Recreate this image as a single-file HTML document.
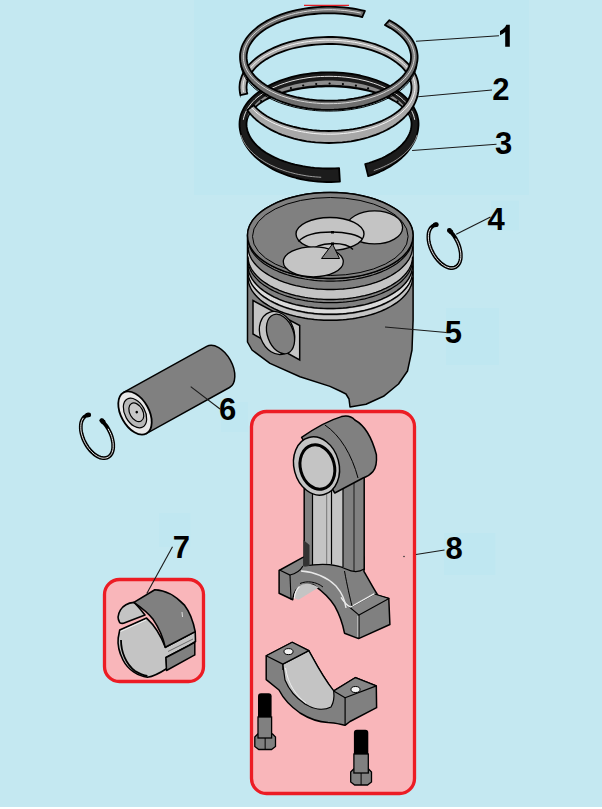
<!DOCTYPE html>
<html><head><meta charset="utf-8">
<style>
html,body{margin:0;padding:0;background:#c4e8f1;}
body{width:602px;height:809px;overflow:hidden;position:relative;}
svg{position:absolute;left:0;top:0;}
text{font-family:"Liberation Sans",sans-serif;font-weight:bold;font-size:31px;fill:#000;}
</style></head><body>
<svg width="602" height="809" viewBox="0 0 602 809">
<rect x="0" y="0" width="602" height="807" fill="#c4e8f1"/>
<rect x="0" y="807" width="602" height="2" fill="#ffffff"/>
<rect x="194" y="0" width="335" height="195" fill="#bfe7f1"/>
<rect x="446" y="308" width="53" height="57" fill="#bfe7f1"/>
<rect x="491" y="200.5" width="28" height="30" fill="#bfe7f1"/>
<rect x="221" y="402" width="27" height="30" fill="#c0e7f1"/>
<rect x="159" y="513" width="31.5" height="34" fill="#c0e7f1"/>
<rect x="444" y="533" width="51.5" height="42" fill="#bfe7f1"/>

<g id="rings">
<polygon points="339.9,181.6 335.5,181.8 331.1,182.0 326.6,182.0 322.2,181.8 317.8,181.5 313.4,181.1 309.0,180.5 304.7,179.8 300.5,179.0 296.3,178.0 292.2,176.9 288.2,175.6 284.3,174.2 280.5,172.7 276.9,171.1 273.3,169.4 269.9,167.5 266.7,165.6 263.6,163.5 260.6,161.4 257.8,159.1 255.2,156.8 252.8,154.4 250.6,151.9 248.5,149.3 246.7,146.7 245.0,144.0 243.6,141.3 242.4,138.5 241.4,135.7 240.6,132.9 240.0,130.0 239.6,127.2 239.5,124.3 239.6,121.7 239.9,119.1 240.4,116.6 241.1,114.1 242.1,111.6 243.3,109.1 244.6,106.7 246.2,104.3 248.0,101.9 250.0,99.6 252.2,97.4 254.6,95.3 257.1,93.2 259.8,91.1 262.7,89.2 265.8,87.4 269.0,85.6 272.4,83.9 275.9,82.4 279.5,80.9 283.3,79.5 287.2,78.3 291.1,77.1 295.2,76.1 299.4,75.2 303.6,74.4 307.9,73.8 312.2,73.2 316.6,72.8 321.0,72.5 325.4,72.3 329.9,72.3 334.3,72.4 338.7,72.6 343.1,72.9 347.5,73.4 351.8,74.0 356.1,74.7 360.3,75.5 364.4,76.5 368.4,77.6 372.3,78.8 376.2,80.0 379.9,81.5 383.5,83.0 386.9,84.6 390.2,86.3 393.4,88.1 396.4,90.0 399.2,91.9 401.9,94.0 404.4,96.1 406.7,98.3 408.8,100.5 410.7,102.8 412.4,105.2 413.9,107.6 415.2,110.1 416.3,112.5 417.2,115.0 417.8,117.6 418.3,120.1 418.5,122.7 418.5,125.4 418.2,128.3 417.8,131.1 417.1,134.0 416.3,136.8 415.2,139.6 413.9,142.4 412.3,145.1 410.6,147.7 408.7,150.3 406.6,152.9 404.3,155.3 401.8,157.7 399.1,160.0 396.3,162.2 393.3,164.3 390.1,166.4 386.8,168.3 383.3,170.1 379.7,171.8 376.0,173.3 372.2,174.8 368.2,176.1 365.2,164.0 368.8,163.0 372.3,161.9 375.8,160.6 379.1,159.3 382.3,158.0 385.3,156.5 388.2,154.9 391.0,153.3 393.6,151.6 396.1,149.9 398.4,148.0 400.5,146.1 402.5,144.2 404.2,142.2 405.8,140.2 407.2,138.1 408.4,136.0 409.4,133.8 410.2,131.7 410.9,129.5 411.3,127.3 411.5,125.1 411.5,123.0 411.3,121.1 410.9,119.3 410.3,117.4 409.5,115.6 408.5,113.8 407.3,112.0 405.9,110.3 404.3,108.6 402.6,106.9 400.6,105.2 398.5,103.6 396.2,102.1 393.7,100.6 391.1,99.2 388.4,97.8 385.4,96.5 382.4,95.2 379.2,94.1 375.9,93.0 372.5,91.9 369.0,91.0 365.3,90.1 361.6,89.4 357.8,88.7 353.9,88.1 350.0,87.5 346.0,87.1 342.0,86.8 338.0,86.5 333.9,86.4 329.8,86.3 325.7,86.3 321.6,86.5 317.6,86.7 313.5,87.0 309.5,87.4 305.6,87.8 301.7,88.4 297.9,89.1 294.1,89.8 290.4,90.7 286.9,91.6 283.4,92.6 280.1,93.6 276.8,94.8 273.7,96.0 270.7,97.3 267.9,98.6 265.2,100.0 262.7,101.5 260.4,103.0 258.2,104.6 256.2,106.2 254.3,107.9 252.7,109.6 251.2,111.3 250.0,113.1 248.9,114.9 248.0,116.7 247.3,118.6 246.9,120.4 246.6,122.3 246.5,124.2 246.6,126.4 247.0,128.6 247.5,130.8 248.2,133.0 249.2,135.1 250.3,137.3 251.6,139.4 253.1,141.4 254.8,143.4 256.7,145.4 258.8,147.3 261.0,149.2 263.4,150.9 266.0,152.7 268.7,154.3 271.5,155.9 274.5,157.4 277.7,158.8 280.9,160.2 284.3,161.4 287.8,162.5 291.4,163.6 295.1,164.6 298.9,165.4 302.7,166.2 306.6,166.8 310.6,167.4 314.6,167.8 318.6,168.1 322.7,168.4 326.8,168.5 330.9,168.5 335.0,168.4 339.1,168.2" fill="#1c1c1c" stroke="#000" stroke-width="1.8" stroke-linejoin="round"/>
<polygon points="247.0,117.9 247.6,115.8 248.5,113.8 249.5,111.8 250.7,109.9 252.1,107.9 253.6,106.0 255.3,104.2 257.2,102.3 259.2,100.6 261.5,98.9 263.8,97.2 266.3,95.6 269.0,94.1 271.8,92.6 274.7,91.2 277.7,89.9 280.9,88.7 284.1,87.5 287.5,86.4 291.0,85.4 294.5,84.5 298.2,83.7 301.9,83.0 305.6,82.4 309.4,81.8 313.3,81.4 317.2,81.0 321.1,80.8 325.1,80.6 329.0,80.6 332.9,80.6 336.9,80.8 340.8,81.0 344.7,81.4 348.6,81.8 352.4,82.4 356.1,83.0 359.8,83.7 363.5,84.5 367.0,85.4 370.5,86.4 373.9,87.5 377.1,88.7 380.3,89.9 383.3,91.2 386.2,92.6 389.0,94.1 391.7,95.6 394.2,97.2 396.5,98.9 398.8,100.6 400.8,102.3 402.7,104.2 404.4,106.0 405.9,107.9 407.3,109.9 408.5,111.8 409.5,113.8 410.4,115.8 411.0,117.9 411.0,118.4 410.4,116.6 409.5,114.8 408.5,113.0 407.3,111.2 405.9,109.4 404.4,107.7 402.7,106.0 400.8,104.4 398.8,102.8 396.5,101.2 394.2,99.7 391.7,98.3 389.0,96.9 386.2,95.6 383.3,94.3 380.3,93.1 377.1,92.0 373.9,90.9 370.5,90.0 367.0,89.1 363.5,88.3 359.8,87.5 356.1,86.9 352.4,86.3 348.6,85.8 344.7,85.4 340.8,85.1 336.9,84.9 332.9,84.7 329.0,84.7 325.1,84.7 321.1,84.9 317.2,85.1 313.3,85.4 309.4,85.8 305.6,86.3 301.9,86.9 298.2,87.5 294.5,88.3 291.0,89.1 287.5,90.0 284.1,90.9 280.9,92.0 277.7,93.1 274.7,94.3 271.8,95.6 269.0,96.9 266.3,98.3 263.8,99.7 261.5,101.2 259.2,102.8 257.2,104.4 255.3,106.0 253.6,107.7 252.1,109.4 250.7,111.2 249.5,113.0 248.5,114.8 247.6,116.6 247.0,118.4" fill="#8c8c8c"/>
<circle cx="249.7" cy="112.8" r="1.1" fill="#000"/>
<circle cx="254.4" cy="106.6" r="1.1" fill="#000"/>
<circle cx="261.1" cy="101.0" r="1.1" fill="#000"/>
<circle cx="269.6" cy="95.9" r="1.1" fill="#000"/>
<circle cx="279.6" cy="91.6" r="1.1" fill="#000"/>
<circle cx="290.9" cy="88.1" r="1.1" fill="#000"/>
<circle cx="303.2" cy="85.5" r="1.1" fill="#000"/>
<circle cx="316.2" cy="84.0" r="1.1" fill="#000"/>
<circle cx="329.6" cy="83.5" r="1.1" fill="#000"/>
<circle cx="342.9" cy="84.1" r="1.1" fill="#000"/>
<circle cx="355.9" cy="85.7" r="1.1" fill="#000"/>
<circle cx="368.1" cy="88.3" r="1.1" fill="#000"/>
<circle cx="379.3" cy="91.9" r="1.1" fill="#000"/>
<circle cx="389.2" cy="96.3" r="1.1" fill="#000"/>
<circle cx="397.6" cy="101.4" r="1.1" fill="#000"/>
<circle cx="404.1" cy="107.1" r="1.1" fill="#000"/>
<circle cx="408.6" cy="113.3" r="1.1" fill="#000"/>
<polyline points="243.3,119.8 243.8,117.4 244.5,115.1 245.4,112.8 246.5,110.5 247.8,108.3 249.3,106.1 251.0,103.9 252.8,101.8 254.9,99.7 257.1,97.7 259.6,95.8 262.2,93.9 264.9,92.2 267.8,90.4 270.9,88.8 274.1,87.3 277.4,85.8 280.9,84.4 284.5,83.2 288.2,82.0 292.0,80.9 295.9,80.0 299.8,79.1 303.9,78.4 308.0,77.7 312.1,77.2 316.3,76.8 320.5,76.5 324.7,76.4 329.0,76.3 333.3,76.4 337.5,76.5 341.7,76.8 345.9,77.2 350.0,77.7 354.1,78.4 358.2,79.1 362.1,80.0 366.0,80.9 369.8,82.0 373.5,83.2 377.1,84.4 380.6,85.8 383.9,87.3 387.1,88.8 390.2,90.4 393.1,92.2 395.8,93.9 398.4,95.8 400.9,97.7 403.1,99.7 405.2,101.8 407.0,103.9 408.7,106.1 410.2,108.3 411.5,110.5 412.6,112.8 413.5,115.1 414.2,117.4 414.7,119.8" fill="none" stroke="#e0e0e0" stroke-width="1"/>
<polyline points="417.1,134.9 416.8,136.0 416.4,137.1 415.9,138.2 415.5,139.3 414.9,140.3 414.4,141.4 413.8,142.5 413.1,143.5 412.4,144.6 411.7,145.6 410.9,146.7 410.1,147.7 409.3,148.7 408.4,149.7 407.5,150.7 406.5,151.7 405.5,152.7 404.5,153.6 403.4,154.6 402.3,155.5 401.2,156.4 400.0,157.3 398.8,158.2 397.6,159.1 396.3,159.9 395.0,160.8 393.7,161.6 392.3,162.4 390.9,163.2 389.5,163.9 388.0,164.7 386.5,165.4 385.0,166.1 383.5,166.8 381.9,167.5 380.3,168.2 378.7,168.8 377.1,169.4 375.4,170.0 373.8,170.6" fill="none" stroke="#bbb" stroke-width="0.8"/>
<polyline points="321.2,177.3 318.3,177.1 315.4,176.9 312.5,176.6 309.6,176.3 306.8,175.9 304.0,175.4 301.2,174.9 298.4,174.4 295.7,173.8 293.0,173.1 290.3,172.4 287.7,171.7 285.1,170.9 282.6,170.0 280.1,169.1 277.7,168.2 275.3,167.2 273.0,166.1 270.7,165.1 268.5,163.9 266.4,162.8 264.3,161.6 262.4,160.3 260.4,159.1 258.6,157.8 256.8,156.4 255.1,155.0 253.5,153.6 252.0,152.2 250.5,150.7 249.2,149.2 247.9,147.7 246.7,146.2 245.6,144.6 244.6,143.0 243.6,141.4 242.8,139.8 242.1,138.2 241.4,136.5 240.9,134.9" fill="none" stroke="#bbb" stroke-width="0.8"/>
<polygon points="240.4,95.2 239.9,92.5 239.6,89.7 239.5,87.0 239.7,84.4 240.0,81.9 240.7,79.4 241.5,76.9 242.5,74.5 243.8,72.1 245.3,69.7 246.9,67.3 248.8,65.0 250.9,62.8 253.2,60.6 255.7,58.5 258.3,56.5 261.2,54.5 264.2,52.7 267.4,50.9 270.7,49.2 274.1,47.6 277.8,46.1 281.5,44.7 285.3,43.4 289.3,42.2 293.4,41.2 297.5,40.2 301.7,39.4 306.0,38.7 310.4,38.1 314.8,37.6 319.2,37.3 323.7,37.1 328.2,37.0 332.6,37.0 337.1,37.2 341.6,37.5 346.0,37.9 350.3,38.5 354.7,39.1 358.9,39.9 363.1,40.8 367.2,41.8 371.2,43.0 375.1,44.2 378.9,45.6 382.5,47.0 386.0,48.6 389.4,50.2 392.7,52.0 395.7,53.8 398.6,55.8 401.3,57.8 403.9,59.8 406.2,62.0 408.4,64.2 410.4,66.5 412.1,68.8 413.7,71.2 415.0,73.6 416.2,76.0 417.1,78.5 417.8,81.0 418.2,83.5 418.5,86.0 418.5,88.7 418.3,91.4 417.8,94.2 417.2,96.9 416.3,99.7 415.2,102.4 413.9,105.0 412.4,107.6 410.7,110.2 408.7,112.7 406.6,115.1 404.3,117.5 401.8,119.8 399.1,122.0 396.2,124.2 393.2,126.2 390.0,128.1 386.6,130.0 383.1,131.7 379.5,133.3 375.7,134.8 371.8,136.2 367.9,137.5 363.8,138.6 359.6,139.7 355.4,140.5 351.1,141.3 346.7,141.9 342.3,142.4 337.8,142.7 333.4,142.9 328.9,143.0 324.4,142.9 320.0,142.7 315.5,142.4 311.1,141.9 306.7,141.3 302.4,140.5 298.2,139.6 294.0,138.6 290.0,137.4 286.0,136.2 282.1,134.8 278.3,133.3 274.7,131.6 271.2,129.9 267.9,128.0 264.7,126.1 261.7,124.1 258.8,121.9 256.1,119.7 253.6,117.4 251.3,115.0 249.2,112.6 247.2,110.1 253.6,105.2 255.4,107.2 257.4,109.1 259.5,110.9 261.8,112.7 264.3,114.5 266.9,116.2 269.7,117.8 272.7,119.3 275.7,120.7 279.0,122.1 282.3,123.4 285.8,124.6 289.3,125.6 293.0,126.6 296.8,127.5 300.6,128.3 304.5,129.0 308.5,129.6 312.5,130.1 316.6,130.5 320.7,130.8 324.8,130.9 328.9,131.0 333.0,130.9 337.1,130.8 341.2,130.5 345.3,130.1 349.3,129.7 353.3,129.1 357.2,128.4 361.1,127.6 364.8,126.7 368.5,125.7 372.1,124.6 375.5,123.4 378.9,122.1 382.1,120.8 385.2,119.3 388.1,117.8 390.9,116.2 393.6,114.6 396.1,112.8 398.4,111.0 400.5,109.2 402.5,107.2 404.3,105.3 405.9,103.3 407.3,101.2 408.5,99.1 409.5,97.0 410.3,94.9 410.9,92.8 411.3,90.6 411.5,88.4 411.5,86.2 411.2,84.1 410.8,81.9 410.2,79.7 409.3,77.6 408.3,75.5 407.1,73.4 405.6,71.4 404.0,69.4 402.2,67.4 400.2,65.5 398.0,63.7 395.7,61.9 393.2,60.2 390.5,58.5 387.7,56.9 384.7,55.4 381.6,54.0 378.3,52.6 375.0,51.4 371.5,50.2 367.9,49.1 364.2,48.2 360.4,47.3 356.6,46.5 352.7,45.8 348.7,45.3 344.6,44.8 340.6,44.4 336.5,44.2 332.4,44.0 328.2,44.0 324.1,44.1 320.0,44.3 315.9,44.6 311.8,45.0 307.8,45.5 303.9,46.1 300.0,46.8 296.1,47.6 292.4,48.5 288.8,49.5 285.2,50.6 281.8,51.8 278.4,53.1 275.2,54.5 272.2,56.0 269.3,57.5 266.5,59.1 263.9,60.8 261.4,62.5 259.1,64.4 257.0,66.2 255.1,68.2 253.4,70.1 251.8,72.1 250.4,74.2 249.3,76.3 248.3,78.4 247.6,80.5 247.0,82.7 246.7,84.9 246.5,87.0 246.6,89.2 246.8,91.4 247.3,93.6" fill="#a8a8a8" stroke="#000" stroke-width="1.8" stroke-linejoin="round"/>
<polyline points="243.5,92.1 243.1,89.8 243.0,87.5 243.1,85.1 243.4,82.8 243.9,80.5 244.6,78.2 245.5,76.0 246.6,73.7 247.9,71.5 249.5,69.3 251.2,67.2 253.1,65.1 255.2,63.1 257.4,61.1 259.9,59.2 262.5,57.4 265.3,55.6 268.2,54.0 271.3,52.4 274.5,50.8 277.8,49.4 281.3,48.1 284.9,46.8 288.6,45.7 292.4,44.7 296.3,43.7 300.3,42.9 304.3,42.2 308.4,41.6 312.6,41.1 316.8,40.7 321.0,40.4 325.2,40.2 329.5,40.2 333.8,40.3 338.0,40.5 342.2,40.8 346.4,41.2 350.5,41.7 354.6,42.3 358.6,43.1 362.6,43.9 366.5,44.9 370.3,46.0 373.9,47.1 377.5,48.4 381.0,49.7 384.3,51.2 387.5,52.7 390.5,54.4 393.4,56.1 396.1,57.8 398.7,59.7 401.1,61.6 403.4,63.6 405.4,65.6 407.3,67.7 408.9,69.8 410.4,72.0 411.7,74.2 412.7,76.5 413.6,78.8 414.3,81.1 414.7,83.4 415.0,85.7 415.0,88.0 414.8,90.3 414.4,92.7 413.8,95.0 413.0,97.2 412.0,99.5 410.8,101.7 409.4,103.9 407.8,106.1 406.0,108.2 404.0,110.2 401.8,112.2 399.4,114.2 396.9,116.0 394.2,117.8 391.4,119.6 388.4,121.2 385.2,122.8 381.9,124.2 378.5,125.6 375.0,126.9 371.3,128.1 367.6,129.2 363.8,130.2 359.8,131.1 355.8,131.9 351.7,132.5 347.6,133.1 343.4,133.5 339.2,133.9 335.0,134.1 330.8,134.2 326.5,134.2 322.3,134.1 318.0,133.8 313.8,133.5 309.7,133.0 305.5,132.4 301.5,131.7 297.5,130.9 293.6,130.0 289.7,129.0 286.0,127.9 282.4,126.7 278.9,125.4 275.5,124.0 272.2,122.5 269.1,120.9 266.1,119.3 263.3,117.5 260.6,115.7 258.1,113.8 255.8,111.9 253.7,109.9 251.7,107.8" fill="none" stroke="#f4f4f4" stroke-width="1"/>
<polyline points="240.5,97.2 240.5,97.2 240.5,97.2 240.5,97.2 240.5,97.2 240.5,97.2 240.5,97.1 240.5,97.1 240.5,97.1 240.5,97.1 240.5,97.1 240.5,97.1 240.5,97.1 240.5,97.0 240.5,97.0 240.4,97.0 240.4,97.0 240.4,97.0 240.4,97.0 240.4,97.0 240.4,96.9 240.4,96.9 240.4,96.9 240.4,96.9 240.4,96.9 240.4,96.9 240.4,96.9 240.4,96.8 240.4,96.8 240.4,96.8 240.4,96.8 240.4,96.8 240.4,96.8 240.4,96.7 240.4,96.7 240.4,96.7 240.4,96.7 240.4,96.7 240.4,96.7 240.4,96.7 240.4,96.6 240.4,96.6 240.4,96.6 240.4,96.6 240.4,96.6 240.4,96.6 240.4,96.6 240.4,96.5 240.4,96.5 240.4,96.5 240.4,96.5 240.4,96.5 240.4,96.5 240.4,96.5 240.4,96.4 240.4,96.4 240.3,96.4 240.3,96.4 240.3,96.4 240.3,96.4 240.3,96.4" fill="none" stroke="#000" stroke-width="1"/>
<polygon points="389.4,20.2 392.5,22.0 395.5,23.8 398.3,25.7 401.0,27.7 403.4,29.8 405.7,31.9 407.8,34.1 409.8,36.3 411.5,38.6 413.0,41.0 414.3,43.4 415.4,45.8 416.2,48.2 416.9,50.7 417.3,53.2 417.6,55.7 417.6,58.2 417.4,60.8 416.9,63.4 416.3,66.0 415.4,68.6 414.4,71.1 413.1,73.6 411.6,76.1 409.9,78.5 408.0,80.9 405.9,83.2 403.6,85.4 401.2,87.6 398.5,89.7 395.7,91.7 392.7,93.6 389.6,95.5 386.3,97.2 382.9,98.9 379.4,100.4 375.7,101.8 371.9,103.2 368.0,104.4 364.0,105.5 359.9,106.5 355.7,107.3 351.5,108.0 347.2,108.7 342.9,109.1 338.5,109.5 334.1,109.7 329.7,109.8 325.3,109.8 320.9,109.6 316.6,109.3 312.2,108.9 307.9,108.3 303.7,107.6 299.5,106.8 295.3,105.9 291.3,104.9 287.4,103.7 283.5,102.4 279.8,101.0 276.2,99.5 272.7,97.9 269.4,96.2 266.2,94.4 263.1,92.5 260.2,90.5 257.5,88.5 255.0,86.3 252.6,84.1 250.5,81.9 248.5,79.5 246.7,77.1 245.1,74.7 243.8,72.2 242.6,69.7 241.6,67.1 240.9,64.5 240.4,61.9 240.1,59.3 240.0,56.7 240.1,54.2 240.5,51.7 241.1,49.3 241.8,46.8 242.8,44.4 244.1,42.0 245.5,39.6 247.1,37.3 248.9,35.0 250.9,32.8 253.2,30.6 255.6,28.6 258.1,26.5 260.9,24.6 263.8,22.7 266.9,20.9 270.1,19.2 273.5,17.6 277.0,16.1 280.7,14.7 284.4,13.4 288.3,12.2 292.2,11.2 296.3,10.2 300.4,9.3 304.6,8.6 308.9,8.0 313.2,7.5 317.6,7.1 322.0,6.8 326.4,6.7 330.8,6.7 335.2,6.8 339.5,7.1 343.9,7.4 348.2,7.9 352.5,8.5 356.7,9.2 360.9,10.1 364.9,11.0 362.2,17.1 358.5,16.2 354.6,15.5 350.7,14.9 346.8,14.4 342.8,13.9 338.7,13.6 334.7,13.4 330.6,13.3 326.5,13.3 322.5,13.4 318.4,13.7 314.4,14.0 310.4,14.4 306.4,14.9 302.5,15.6 298.7,16.3 295.0,17.2 291.3,18.1 287.7,19.2 284.2,20.3 280.9,21.5 277.6,22.8 274.5,24.2 271.5,25.7 268.6,27.2 265.9,28.8 263.4,30.5 261.0,32.3 258.8,34.1 256.7,36.0 254.9,37.9 253.2,39.9 251.7,41.9 250.4,43.9 249.2,46.0 248.3,48.1 247.6,50.3 247.1,52.4 246.7,54.6 246.6,56.7 246.7,58.9 247.0,61.1 247.4,63.2 248.1,65.4 249.0,67.5 250.1,69.6 251.3,71.6 252.8,73.7 254.4,75.6 256.3,77.6 258.3,79.5 260.5,81.3 262.8,83.1 265.3,84.8 268.0,86.4 270.8,88.0 273.8,89.5 276.9,90.9 280.1,92.2 283.4,93.4 286.9,94.6 290.4,95.7 294.1,96.6 297.8,97.5 301.6,98.2 305.5,98.9 309.5,99.5 313.4,99.9 317.5,100.3 321.5,100.5 325.6,100.7 329.7,100.7 333.7,100.6 337.8,100.4 341.8,100.1 345.8,99.8 349.8,99.2 353.7,98.6 357.6,97.9 361.4,97.1 365.1,96.2 368.7,95.2 372.2,94.1 375.6,92.9 378.9,91.7 382.1,90.3 385.1,88.8 388.0,87.3 390.8,85.7 393.4,84.1 395.8,82.3 398.1,80.5 400.2,78.7 402.1,76.8 403.9,74.8 405.4,72.8 406.8,70.8 408.0,68.7 409.0,66.6 409.8,64.5 410.4,62.3 410.8,60.2 411.0,58.0 411.0,55.8 410.8,53.7 410.3,51.5 409.7,49.4 408.9,47.2 407.9,45.1 406.7,43.1 405.3,41.0 403.7,39.0 402.0,37.1 400.0,35.2 397.9,33.3 395.6,31.5 393.2,29.8 390.5,28.1 387.8,26.6 384.9,25.0" fill="#707070" stroke="#000" stroke-width="1.8" stroke-linejoin="round"/>
<polyline points="389.3,23.5 392.1,25.1 394.9,26.9 397.5,28.7 399.9,30.6 402.1,32.5 404.2,34.5 406.1,36.6 407.8,38.7 409.3,40.8 410.6,43.0 411.7,45.2 412.6,47.5 413.4,49.8 413.9,52.0 414.2,54.3 414.3,56.6 414.2,58.9 413.9,61.2 413.4,63.5 412.7,65.8 411.8,68.1 410.7,70.3 409.4,72.5 407.8,74.6 406.2,76.7 404.3,78.8 402.2,80.8 400.0,82.7 397.6,84.6 395.0,86.4 392.3,88.2 389.4,89.9 386.4,91.4 383.2,93.0 379.9,94.4 376.5,95.7 373.0,96.9 369.3,98.1 365.6,99.1 361.7,100.1 357.8,100.9 353.9,101.6 349.8,102.3 345.7,102.8 341.6,103.2 337.5,103.5 333.3,103.6 329.1,103.7 324.9,103.7 320.7,103.5 316.6,103.2 312.4,102.8 308.3,102.3 304.3,101.7 300.3,101.0 296.4,100.2 292.6,99.3 288.8,98.2 285.2,97.1 281.6,95.9 278.2,94.6 274.9,93.2 271.7,91.7 268.6,90.1 265.7,88.4 263.0,86.7 260.4,84.9 257.9,83.0 255.7,81.1 253.6,79.1 251.7,77.0 250.0,74.9 248.5,72.8 247.1,70.6 246.0,68.4 245.0,66.1 244.3,63.9 243.8,61.6 243.4,59.3 243.3,57.0 243.4,54.7 243.7,52.4 244.2,50.1 244.8,47.8 245.7,45.6 246.8,43.3 248.1,41.1 249.6,39.0 251.3,36.9 253.1,34.8 255.2,32.8 257.4,30.9 259.8,29.0 262.3,27.1 265.1,25.4 267.9,23.7 270.9,22.1 274.1,20.6 277.4,19.2 280.8,17.8 284.3,16.6 287.9,15.4 291.7,14.4 295.5,13.4 299.4,12.6 303.4,11.8 307.4,11.2 311.5,10.7 315.6,10.3 319.7,10.0 323.9,9.8 328.1,9.7 332.3,9.7 336.5,9.9 340.6,10.2 344.8,10.5 348.9,11.0 352.9,11.6 356.9,12.3 360.8,13.1" fill="none" stroke="#d8d8d8" stroke-width="1"/>
<polyline points="416.8,65.6 416.3,68.1 415.6,70.5 414.7,72.9 413.5,75.3 412.2,77.7 410.7,80.0 408.9,82.2 407.0,84.4 404.9,86.6 402.6,88.7 400.1,90.7 397.4,92.6 394.6,94.5 391.6,96.3 388.5,98.0 385.2,99.6 381.7,101.2 378.2,102.6 374.5,103.9 370.7,105.1 366.8,106.2 362.8,107.3 358.8,108.1 354.6,108.9 350.4,109.6 346.2,110.1 341.9,110.6 337.5,110.9 333.2,111.0 328.8,111.1 324.4,111.0 320.1,110.9 315.7,110.6 311.4,110.1 307.2,109.6 303.0,108.9 298.8,108.1 294.8,107.3 290.8,106.2 286.9,105.1 283.1,103.9 279.4,102.6 275.9,101.2 272.4,99.6 269.1,98.0 266.0,96.3 263.0,94.5 260.2,92.6 257.5,90.7 255.0,88.7 252.7,86.6 250.6,84.4 248.7,82.2 246.9,80.0 245.4,77.7 244.1,75.3 242.9,72.9 242.0,70.5 241.3,68.1 240.8,65.6" fill="none" stroke="#000" stroke-width="1"/>
</g>
<line x1="304" y1="5.3" x2="349" y2="5.3" stroke="#e31e26" stroke-width="1.2"/>
<g id="piston">
<polygon points="247.5,235.5 247.6,233.8 247.8,232.1 248.1,230.4 248.5,228.8 249.1,227.1 249.8,225.5 250.6,223.8 251.6,222.2 252.6,220.6 253.8,219.0 255.1,217.5 256.5,216.0 258.1,214.5 259.7,213.0 261.5,211.6 263.3,210.2 265.3,208.9 267.3,207.6 269.5,206.3 271.8,205.1 274.1,203.9 276.5,202.8 279.0,201.7 281.6,200.7 284.3,199.7 287.0,198.8 289.8,198.0 292.7,197.2 295.6,196.4 298.6,195.8 301.6,195.2 304.7,194.6 307.8,194.1 311.0,193.7 314.1,193.3 317.3,193.0 320.6,192.8 323.8,192.6 327.0,192.5 330.3,192.5 333.6,192.5 336.8,192.6 340.0,192.8 343.3,193.0 346.5,193.3 349.6,193.7 352.8,194.1 355.9,194.6 359.0,195.2 362.0,195.8 365.0,196.4 367.9,197.2 370.8,198.0 373.6,198.8 376.3,199.7 379.0,200.7 381.6,201.7 384.1,202.8 386.5,203.9 388.8,205.1 391.1,206.3 393.3,207.6 395.3,208.9 397.3,210.2 399.1,211.6 400.9,213.0 402.5,214.5 404.1,216.0 405.5,217.5 406.8,219.0 408.0,220.6 409.0,222.2 410.0,223.8 410.8,225.5 411.5,227.1 412.1,228.8 412.5,230.4 412.8,232.1 413.0,233.8 413.1,235.5 413.1,320.0 412.0,350.0 407.5,371.0 398.5,384.0 383.5,396.3 366.0,404.3 350.0,407.0 349.0,399.0 346.0,394.0 340.0,391.0 330.0,386.4 300.0,376.8 270.0,363.4 252.0,350.0 247.5,342.0" fill="#808080" stroke="#000" stroke-width="1.5" stroke-linejoin="round"/>
<polygon points="248.0,247.0 248.1,248.7 248.3,250.4 248.6,252.1 249.0,253.7 249.6,255.4 250.3,257.0 251.1,258.7 252.0,260.3 253.1,261.9 254.3,263.5 255.6,265.0 257.0,266.5 258.5,268.0 260.1,269.5 261.9,270.9 263.7,272.3 265.7,273.6 267.7,274.9 269.9,276.2 272.1,277.4 274.4,278.6 276.9,279.7 279.3,280.8 281.9,281.8 284.6,282.8 287.3,283.7 290.1,284.5 292.9,285.3 295.8,286.1 298.8,286.7 301.8,287.3 304.9,287.9 308.0,288.4 311.1,288.8 314.2,289.2 317.4,289.5 320.6,289.7 323.8,289.9 327.1,290.0 330.3,290.0 333.5,290.0 336.8,289.9 340.0,289.7 343.2,289.5 346.4,289.2 349.5,288.8 352.6,288.4 355.7,287.9 358.8,287.3 361.8,286.7 364.8,286.1 367.7,285.3 370.5,284.5 373.3,283.7 376.0,282.8 378.7,281.8 381.3,280.8 383.7,279.7 386.2,278.6 388.5,277.4 390.7,276.2 392.9,274.9 394.9,273.6 396.9,272.3 398.7,270.9 400.5,269.5 402.1,268.0 403.6,266.5 405.0,265.0 406.3,263.5 407.5,261.9 408.6,260.3 409.5,258.7 410.3,257.0 411.0,255.4 411.6,253.7 412.0,252.1 412.3,250.4 412.5,248.7 412.6,247.0 412.6,256.0 412.5,257.7 412.3,259.4 412.0,261.1 411.6,262.7 411.0,264.4 410.3,266.0 409.5,267.7 408.6,269.3 407.5,270.9 406.3,272.5 405.0,274.0 403.6,275.5 402.1,277.0 400.5,278.5 398.7,279.9 396.9,281.3 394.9,282.6 392.9,283.9 390.7,285.2 388.5,286.4 386.2,287.6 383.7,288.7 381.3,289.8 378.7,290.8 376.0,291.8 373.3,292.7 370.5,293.5 367.7,294.3 364.8,295.1 361.8,295.7 358.8,296.3 355.7,296.9 352.6,297.4 349.5,297.8 346.4,298.2 343.2,298.5 340.0,298.7 336.8,298.9 333.5,299.0 330.3,299.0 327.1,299.0 323.8,298.9 320.6,298.7 317.4,298.5 314.2,298.2 311.1,297.8 308.0,297.4 304.9,296.9 301.8,296.3 298.8,295.7 295.8,295.1 292.9,294.3 290.1,293.5 287.3,292.7 284.6,291.8 281.9,290.8 279.3,289.8 276.9,288.7 274.4,287.6 272.1,286.4 269.9,285.2 267.7,283.9 265.7,282.6 263.7,281.3 261.9,279.9 260.1,278.5 258.5,277.0 257.0,275.5 255.6,274.0 254.3,272.5 253.1,270.9 252.0,269.3 251.1,267.7 250.3,266.0 249.6,264.4 249.0,262.7 248.6,261.1 248.3,259.4 248.1,257.7 248.0,256.0" fill="#c4c4c4"/>
<polygon points="248.0,266.5 248.1,268.2 248.3,269.9 248.6,271.6 249.0,273.2 249.6,274.9 250.3,276.5 251.1,278.2 252.0,279.8 253.1,281.4 254.3,283.0 255.6,284.5 257.0,286.0 258.5,287.5 260.1,289.0 261.9,290.4 263.7,291.8 265.7,293.1 267.7,294.4 269.9,295.7 272.1,296.9 274.4,298.1 276.9,299.2 279.3,300.3 281.9,301.3 284.6,302.3 287.3,303.2 290.1,304.0 292.9,304.8 295.8,305.6 298.8,306.2 301.8,306.8 304.9,307.4 308.0,307.9 311.1,308.3 314.2,308.7 317.4,309.0 320.6,309.2 323.8,309.4 327.1,309.5 330.3,309.5 333.5,309.5 336.8,309.4 340.0,309.2 343.2,309.0 346.4,308.7 349.5,308.3 352.6,307.9 355.7,307.4 358.8,306.8 361.8,306.2 364.8,305.6 367.7,304.8 370.5,304.0 373.3,303.2 376.0,302.3 378.7,301.3 381.3,300.3 383.7,299.2 386.2,298.1 388.5,296.9 390.7,295.7 392.9,294.4 394.9,293.1 396.9,291.8 398.7,290.4 400.5,289.0 402.1,287.5 403.6,286.0 405.0,284.5 406.3,283.0 407.5,281.4 408.6,279.8 409.5,278.2 410.3,276.5 411.0,274.9 411.6,273.2 412.0,271.6 412.3,269.9 412.5,268.2 412.6,266.5 412.6,270.5 412.5,272.2 412.3,273.9 412.0,275.6 411.6,277.2 411.0,278.9 410.3,280.5 409.5,282.2 408.6,283.8 407.5,285.4 406.3,287.0 405.0,288.5 403.6,290.0 402.1,291.5 400.5,293.0 398.7,294.4 396.9,295.8 394.9,297.1 392.9,298.4 390.7,299.7 388.5,300.9 386.2,302.1 383.7,303.2 381.3,304.3 378.7,305.3 376.0,306.3 373.3,307.2 370.5,308.0 367.7,308.8 364.8,309.6 361.8,310.2 358.8,310.8 355.7,311.4 352.6,311.9 349.5,312.3 346.4,312.7 343.2,313.0 340.0,313.2 336.8,313.4 333.5,313.5 330.3,313.5 327.1,313.5 323.8,313.4 320.6,313.2 317.4,313.0 314.2,312.7 311.1,312.3 308.0,311.9 304.9,311.4 301.8,310.8 298.8,310.2 295.8,309.6 292.9,308.8 290.1,308.0 287.3,307.2 284.6,306.3 281.9,305.3 279.3,304.3 276.9,303.2 274.4,302.1 272.1,300.9 269.9,299.7 267.7,298.4 265.7,297.1 263.7,295.8 261.9,294.4 260.1,293.0 258.5,291.5 257.0,290.0 255.6,288.5 254.3,287.0 253.1,285.4 252.0,283.8 251.1,282.2 250.3,280.5 249.6,278.9 249.0,277.2 248.6,275.6 248.3,273.9 248.1,272.2 248.0,270.5" fill="#dadada"/>
<polygon points="248.0,272.5 248.1,274.2 248.3,275.9 248.6,277.6 249.0,279.2 249.6,280.9 250.3,282.5 251.1,284.2 252.0,285.8 253.1,287.4 254.3,289.0 255.6,290.5 257.0,292.0 258.5,293.5 260.1,295.0 261.9,296.4 263.7,297.8 265.7,299.1 267.7,300.4 269.9,301.7 272.1,302.9 274.4,304.1 276.9,305.2 279.3,306.3 281.9,307.3 284.6,308.3 287.3,309.2 290.1,310.0 292.9,310.8 295.8,311.6 298.8,312.2 301.8,312.8 304.9,313.4 308.0,313.9 311.1,314.3 314.2,314.7 317.4,315.0 320.6,315.2 323.8,315.4 327.1,315.5 330.3,315.5 333.5,315.5 336.8,315.4 340.0,315.2 343.2,315.0 346.4,314.7 349.5,314.3 352.6,313.9 355.7,313.4 358.8,312.8 361.8,312.2 364.8,311.6 367.7,310.8 370.5,310.0 373.3,309.2 376.0,308.3 378.7,307.3 381.3,306.3 383.7,305.2 386.2,304.1 388.5,302.9 390.7,301.7 392.9,300.4 394.9,299.1 396.9,297.8 398.7,296.4 400.5,295.0 402.1,293.5 403.6,292.0 405.0,290.5 406.3,289.0 407.5,287.4 408.6,285.8 409.5,284.2 410.3,282.5 411.0,280.9 411.6,279.2 412.0,277.6 412.3,275.9 412.5,274.2 412.6,272.5 412.6,276.5 412.5,278.2 412.3,279.9 412.0,281.6 411.6,283.2 411.0,284.9 410.3,286.5 409.5,288.2 408.6,289.8 407.5,291.4 406.3,293.0 405.0,294.5 403.6,296.0 402.1,297.5 400.5,299.0 398.7,300.4 396.9,301.8 394.9,303.1 392.9,304.4 390.7,305.7 388.5,306.9 386.2,308.1 383.7,309.2 381.3,310.3 378.7,311.3 376.0,312.3 373.3,313.2 370.5,314.0 367.7,314.8 364.8,315.6 361.8,316.2 358.8,316.8 355.7,317.4 352.6,317.9 349.5,318.3 346.4,318.7 343.2,319.0 340.0,319.2 336.8,319.4 333.5,319.5 330.3,319.5 327.1,319.5 323.8,319.4 320.6,319.2 317.4,319.0 314.2,318.7 311.1,318.3 308.0,317.9 304.9,317.4 301.8,316.8 298.8,316.2 295.8,315.6 292.9,314.8 290.1,314.0 287.3,313.2 284.6,312.3 281.9,311.3 279.3,310.3 276.9,309.2 274.4,308.1 272.1,306.9 269.9,305.7 267.7,304.4 265.7,303.1 263.7,301.8 261.9,300.4 260.1,299.0 258.5,297.5 257.0,296.0 255.6,294.5 254.3,293.0 253.1,291.4 252.0,289.8 251.1,288.2 250.3,286.5 249.6,284.9 249.0,283.2 248.6,281.6 248.3,279.9 248.1,278.2 248.0,276.5" fill="#c4c4c4"/>
<polyline points="412.6,235.5 412.5,237.2 412.3,238.9 412.0,240.6 411.6,242.2 411.0,243.9 410.3,245.5 409.5,247.2 408.6,248.8 407.5,250.4 406.3,252.0 405.0,253.5 403.6,255.0 402.1,256.5 400.5,258.0 398.7,259.4 396.9,260.8 394.9,262.1 392.9,263.4 390.7,264.7 388.5,265.9 386.2,267.1 383.7,268.2 381.3,269.3 378.7,270.3 376.0,271.3 373.3,272.2 370.5,273.0 367.7,273.8 364.8,274.6 361.8,275.2 358.8,275.8 355.7,276.4 352.6,276.9 349.5,277.3 346.4,277.7 343.2,278.0 340.0,278.2 336.8,278.4 333.5,278.5 330.3,278.5 327.1,278.5 323.8,278.4 320.6,278.2 317.4,278.0 314.2,277.7 311.1,277.3 308.0,276.9 304.9,276.4 301.8,275.8 298.8,275.2 295.8,274.6 292.9,273.8 290.1,273.0 287.3,272.2 284.6,271.3 281.9,270.3 279.3,269.3 276.9,268.2 274.4,267.1 272.1,265.9 269.9,264.7 267.7,263.4 265.7,262.1 263.7,260.8 261.9,259.4 260.1,258.0 258.5,256.5 257.0,255.0 255.6,253.5 254.3,252.0 253.1,250.4 252.0,248.8 251.1,247.2 250.3,245.5 249.6,243.9 249.0,242.2 248.6,240.6 248.3,238.9 248.1,237.2 248.0,235.5" fill="none" stroke="#000" stroke-width="1.3"/>
<polyline points="412.6,238.1 412.5,239.8 412.3,241.5 412.0,243.2 411.6,244.8 411.0,246.5 410.3,248.1 409.5,249.8 408.6,251.4 407.5,253.0 406.3,254.6 405.0,256.1 403.6,257.6 402.1,259.1 400.5,260.6 398.7,262.0 396.9,263.4 394.9,264.7 392.9,266.0 390.7,267.3 388.5,268.5 386.2,269.7 383.7,270.8 381.3,271.9 378.7,272.9 376.0,273.9 373.3,274.8 370.5,275.6 367.7,276.4 364.8,277.2 361.8,277.8 358.8,278.4 355.7,279.0 352.6,279.5 349.5,279.9 346.4,280.3 343.2,280.6 340.0,280.8 336.8,281.0 333.5,281.1 330.3,281.1 327.1,281.1 323.8,281.0 320.6,280.8 317.4,280.6 314.2,280.3 311.1,279.9 308.0,279.5 304.9,279.0 301.8,278.4 298.8,277.8 295.8,277.2 292.9,276.4 290.1,275.6 287.3,274.8 284.6,273.9 281.9,272.9 279.3,271.9 276.9,270.8 274.4,269.7 272.1,268.5 269.9,267.3 267.7,266.0 265.7,264.7 263.7,263.4 261.9,262.0 260.1,260.6 258.5,259.1 257.0,257.6 255.6,256.1 254.3,254.6 253.1,253.0 252.0,251.4 251.1,249.8 250.3,248.1 249.6,246.5 249.0,244.8 248.6,243.2 248.3,241.5 248.1,239.8 248.0,238.1" fill="none" stroke="#000" stroke-width="1.2"/>
<polyline points="412.6,246.5 412.5,248.2 412.3,249.9 412.0,251.6 411.6,253.2 411.0,254.9 410.3,256.5 409.5,258.2 408.6,259.8 407.5,261.4 406.3,263.0 405.0,264.5 403.6,266.0 402.1,267.5 400.5,269.0 398.7,270.4 396.9,271.8 394.9,273.1 392.9,274.4 390.7,275.7 388.5,276.9 386.2,278.1 383.7,279.2 381.3,280.3 378.7,281.3 376.0,282.3 373.3,283.2 370.5,284.0 367.7,284.8 364.8,285.6 361.8,286.2 358.8,286.8 355.7,287.4 352.6,287.9 349.5,288.3 346.4,288.7 343.2,289.0 340.0,289.2 336.8,289.4 333.5,289.5 330.3,289.5 327.1,289.5 323.8,289.4 320.6,289.2 317.4,289.0 314.2,288.7 311.1,288.3 308.0,287.9 304.9,287.4 301.8,286.8 298.8,286.2 295.8,285.6 292.9,284.8 290.1,284.0 287.3,283.2 284.6,282.3 281.9,281.3 279.3,280.3 276.9,279.2 274.4,278.1 272.1,276.9 269.9,275.7 267.7,274.4 265.7,273.1 263.7,271.8 261.9,270.4 260.1,269.0 258.5,267.5 257.0,266.0 255.6,264.5 254.3,263.0 253.1,261.4 252.0,259.8 251.1,258.2 250.3,256.5 249.6,254.9 249.0,253.2 248.6,251.6 248.3,249.9 248.1,248.2 248.0,246.5" fill="none" stroke="#000" stroke-width="1.3"/>
<polyline points="412.6,256.5 412.5,258.2 412.3,259.9 412.0,261.6 411.6,263.2 411.0,264.9 410.3,266.5 409.5,268.2 408.6,269.8 407.5,271.4 406.3,273.0 405.0,274.5 403.6,276.0 402.1,277.5 400.5,279.0 398.7,280.4 396.9,281.8 394.9,283.1 392.9,284.4 390.7,285.7 388.5,286.9 386.2,288.1 383.7,289.2 381.3,290.3 378.7,291.3 376.0,292.3 373.3,293.2 370.5,294.0 367.7,294.8 364.8,295.6 361.8,296.2 358.8,296.8 355.7,297.4 352.6,297.9 349.5,298.3 346.4,298.7 343.2,299.0 340.0,299.2 336.8,299.4 333.5,299.5 330.3,299.5 327.1,299.5 323.8,299.4 320.6,299.2 317.4,299.0 314.2,298.7 311.1,298.3 308.0,297.9 304.9,297.4 301.8,296.8 298.8,296.2 295.8,295.6 292.9,294.8 290.1,294.0 287.3,293.2 284.6,292.3 281.9,291.3 279.3,290.3 276.9,289.2 274.4,288.1 272.1,286.9 269.9,285.7 267.7,284.4 265.7,283.1 263.7,281.8 261.9,280.4 260.1,279.0 258.5,277.5 257.0,276.0 255.6,274.5 254.3,273.0 253.1,271.4 252.0,269.8 251.1,268.2 250.3,266.5 249.6,264.9 249.0,263.2 248.6,261.6 248.3,259.9 248.1,258.2 248.0,256.5" fill="none" stroke="#000" stroke-width="1.3"/>
<polyline points="412.6,259.7 412.5,261.4 412.3,263.1 412.0,264.8 411.6,266.4 411.0,268.1 410.3,269.7 409.5,271.4 408.6,273.0 407.5,274.6 406.3,276.2 405.0,277.7 403.6,279.2 402.1,280.7 400.5,282.2 398.7,283.6 396.9,285.0 394.9,286.3 392.9,287.6 390.7,288.9 388.5,290.1 386.2,291.3 383.7,292.4 381.3,293.5 378.7,294.5 376.0,295.5 373.3,296.4 370.5,297.2 367.7,298.0 364.8,298.8 361.8,299.4 358.8,300.0 355.7,300.6 352.6,301.1 349.5,301.5 346.4,301.9 343.2,302.2 340.0,302.4 336.8,302.6 333.5,302.7 330.3,302.7 327.1,302.7 323.8,302.6 320.6,302.4 317.4,302.2 314.2,301.9 311.1,301.5 308.0,301.1 304.9,300.6 301.8,300.0 298.8,299.4 295.8,298.8 292.9,298.0 290.1,297.2 287.3,296.4 284.6,295.5 281.9,294.5 279.3,293.5 276.9,292.4 274.4,291.3 272.1,290.1 269.9,288.9 267.7,287.6 265.7,286.3 263.7,285.0 261.9,283.6 260.1,282.2 258.5,280.7 257.0,279.2 255.6,277.7 254.3,276.2 253.1,274.6 252.0,273.0 251.1,271.4 250.3,269.7 249.6,268.1 249.0,266.4 248.6,264.8 248.3,263.1 248.1,261.4 248.0,259.7" fill="none" stroke="#000" stroke-width="1.2"/>
<polyline points="412.6,265.5 412.5,267.2 412.3,268.9 412.0,270.6 411.6,272.2 411.0,273.9 410.3,275.5 409.5,277.2 408.6,278.8 407.5,280.4 406.3,282.0 405.0,283.5 403.6,285.0 402.1,286.5 400.5,288.0 398.7,289.4 396.9,290.8 394.9,292.1 392.9,293.4 390.7,294.7 388.5,295.9 386.2,297.1 383.7,298.2 381.3,299.3 378.7,300.3 376.0,301.3 373.3,302.2 370.5,303.0 367.7,303.8 364.8,304.6 361.8,305.2 358.8,305.8 355.7,306.4 352.6,306.9 349.5,307.3 346.4,307.7 343.2,308.0 340.0,308.2 336.8,308.4 333.5,308.5 330.3,308.5 327.1,308.5 323.8,308.4 320.6,308.2 317.4,308.0 314.2,307.7 311.1,307.3 308.0,306.9 304.9,306.4 301.8,305.8 298.8,305.2 295.8,304.6 292.9,303.8 290.1,303.0 287.3,302.2 284.6,301.3 281.9,300.3 279.3,299.3 276.9,298.2 274.4,297.1 272.1,295.9 269.9,294.7 267.7,293.4 265.7,292.1 263.7,290.8 261.9,289.4 260.1,288.0 258.5,286.5 257.0,285.0 255.6,283.5 254.3,282.0 253.1,280.4 252.0,278.8 251.1,277.2 250.3,275.5 249.6,273.9 249.0,272.2 248.6,270.6 248.3,268.9 248.1,267.2 248.0,265.5" fill="none" stroke="#000" stroke-width="1.4"/>
<polyline points="412.6,271.3 412.5,273.0 412.3,274.7 412.0,276.4 411.6,278.0 411.0,279.7 410.3,281.3 409.5,283.0 408.6,284.6 407.5,286.2 406.3,287.8 405.0,289.3 403.6,290.8 402.1,292.3 400.5,293.8 398.7,295.2 396.9,296.6 394.9,297.9 392.9,299.2 390.7,300.5 388.5,301.7 386.2,302.9 383.7,304.0 381.3,305.1 378.7,306.1 376.0,307.1 373.3,308.0 370.5,308.8 367.7,309.6 364.8,310.4 361.8,311.0 358.8,311.6 355.7,312.2 352.6,312.7 349.5,313.1 346.4,313.5 343.2,313.8 340.0,314.0 336.8,314.2 333.5,314.3 330.3,314.3 327.1,314.3 323.8,314.2 320.6,314.0 317.4,313.8 314.2,313.5 311.1,313.1 308.0,312.7 304.9,312.2 301.8,311.6 298.8,311.0 295.8,310.4 292.9,309.6 290.1,308.8 287.3,308.0 284.6,307.1 281.9,306.1 279.3,305.1 276.9,304.0 274.4,302.9 272.1,301.7 269.9,300.5 267.7,299.2 265.7,297.9 263.7,296.6 261.9,295.2 260.1,293.8 258.5,292.3 257.0,290.8 255.6,289.3 254.3,287.8 253.1,286.2 252.0,284.6 251.1,283.0 250.3,281.3 249.6,279.7 249.0,278.0 248.6,276.4 248.3,274.7 248.1,273.0 248.0,271.3" fill="none" stroke="#000" stroke-width="1.4"/>
<polyline points="412.6,277.3 412.5,279.0 412.3,280.7 412.0,282.4 411.6,284.0 411.0,285.7 410.3,287.3 409.5,289.0 408.6,290.6 407.5,292.2 406.3,293.8 405.0,295.3 403.6,296.8 402.1,298.3 400.5,299.8 398.7,301.2 396.9,302.6 394.9,303.9 392.9,305.2 390.7,306.5 388.5,307.7 386.2,308.9 383.7,310.0 381.3,311.1 378.7,312.1 376.0,313.1 373.3,314.0 370.5,314.8 367.7,315.6 364.8,316.4 361.8,317.0 358.8,317.6 355.7,318.2 352.6,318.7 349.5,319.1 346.4,319.5 343.2,319.8 340.0,320.0 336.8,320.2 333.5,320.3 330.3,320.3 327.1,320.3 323.8,320.2 320.6,320.0 317.4,319.8 314.2,319.5 311.1,319.1 308.0,318.7 304.9,318.2 301.8,317.6 298.8,317.0 295.8,316.4 292.9,315.6 290.1,314.8 287.3,314.0 284.6,313.1 281.9,312.1 279.3,311.1 276.9,310.0 274.4,308.9 272.1,307.7 269.9,306.5 267.7,305.2 265.7,303.9 263.7,302.6 261.9,301.2 260.1,299.8 258.5,298.3 257.0,296.8 255.6,295.3 254.3,293.8 253.1,292.2 252.0,290.6 251.1,289.0 250.3,287.3 249.6,285.7 249.0,284.0 248.6,282.4 248.3,280.7 248.1,279.0 248.0,277.3" fill="none" stroke="#000" stroke-width="1.4"/>
<ellipse cx="330.3" cy="235.5" rx="82.8" ry="43" fill="#808080" stroke="#000" stroke-width="1.5"/>
<ellipse cx="330.3" cy="236.5" rx="77.8" ry="39" fill="none" stroke="#000" stroke-width="1"/>
<ellipse cx="374.6" cy="227.4" rx="28" ry="16.5" fill="#c4c4c4" stroke="#000" stroke-width="1.3"/>
<ellipse cx="330" cy="234" rx="34" ry="16.5" fill="#c4c4c4" stroke="#000" stroke-width="1.4"/>
<path d="M298.5,241.5 C305,234 318,232 332,232 C346,232 358,235 362.5,239" fill="none" stroke="#000" stroke-width="1.3"/>
<path d="M306,254 C312,247 322,243.5 333,243.5 C343,243.5 350,246 353,249.5" fill="none" stroke="#000" stroke-width="1.3"/>
<ellipse cx="313.3" cy="261.8" rx="30" ry="15" fill="#c4c4c4" stroke="#000" stroke-width="1.3"/>
<path d="M321.5,258.5 L332.5,244 L339.5,258.5 Z" fill="#808080" stroke="#000" stroke-width="1"/>
<rect x="331" y="231" width="3" height="2.5" fill="#000"/>
<rect x="331" y="242.5" width="3" height="2.5" fill="#000"/>
<polygon points="253,300.5 299.7,325.5 299.7,360 253,334" fill="#c4c4c4" stroke="#000" stroke-width="1.5"/>
<ellipse cx="277" cy="333" rx="17" ry="22" transform="rotate(-20 277 333)" fill="#c4c4c4" stroke="#000" stroke-width="1.3"/>
<ellipse cx="280.5" cy="334" rx="13" ry="20.5" transform="rotate(-20 280.5 334)" fill="#808080" stroke="#000" stroke-width="1.3"/>
</g>
<g id="pin" transform="translate(135,413) rotate(-29)">
<path d="M0,-23.5 L95,-23.5 A14,23.5 0 0 1 95,23.5 L0,23.5 Z" fill="#808080" stroke="#000" stroke-width="1.5"/>
<ellipse cx="0" cy="0" rx="14" ry="23.5" fill="#e8e8e8" stroke="#000" stroke-width="1.8"/>
<ellipse cx="0" cy="0" rx="10" ry="16" fill="#b8b8b8" stroke="#000" stroke-width="1.2"/>
<ellipse cx="1.5" cy="0" rx="6.5" ry="10" fill="#c8c8c8" stroke="#000" stroke-width="1.2"/>
<circle cx="2" cy="0" r="1.3" fill="#000"/>
</g>
<polyline points="101.8,420.6 103.2,422.0 104.5,423.6 105.8,425.2 107.0,426.9 108.1,428.7 109.1,430.6 110.1,432.5 110.9,434.5 111.6,436.4 112.2,438.4 112.6,440.3 113.0,442.3 113.2,444.1 113.2,445.9 113.2,447.7 113.0,449.3 112.6,450.9 112.2,452.3 111.6,453.6 110.9,454.7 110.1,455.7 109.1,456.5 108.1,457.2 107.0,457.7 105.8,458.0 104.5,458.2 103.2,458.2 101.8,458.0 100.4,457.6 98.9,457.0 97.4,456.3 96.0,455.4 94.5,454.4 93.1,453.2 91.7,451.8 90.3,450.4 89.0,448.8 87.7,447.1 86.6,445.4 85.5,443.6 84.5,441.7 83.6,439.7 82.8,437.8 82.2,435.8 81.6,433.9 81.2,431.9 80.9,430.0 80.8,428.2 80.8,426.4 80.9,424.7 81.1,423.1 81.5,421.6 82.0,420.2 82.7,419.0 83.4,417.9 84.3,417.0 85.2,416.2 86.3,415.6 87.5,415.1 88.7,414.9" fill="none" stroke="#000" stroke-width="3.8" stroke-linecap="round"/>
<polyline points="108.1,428.7 109.1,430.6 110.1,432.5 110.9,434.5 111.6,436.4 112.2,438.4 112.6,440.3 113.0,442.3 113.2,444.1 113.2,445.9 113.2,447.7 113.0,449.3 112.6,450.9 112.2,452.3 111.6,453.6 110.9,454.7 110.1,455.7 109.1,456.5 108.1,457.2 107.0,457.7 105.8,458.0 104.5,458.2 103.2,458.2 101.8,458.0 100.4,457.6 98.9,457.0 97.4,456.3 96.0,455.4 94.5,454.4 93.1,453.2 91.7,451.8 90.3,450.4 89.0,448.8 87.7,447.1 86.6,445.4 85.5,443.6 84.5,441.7 83.6,439.7 82.8,437.8 82.2,435.8 81.6,433.9 81.2,431.9 80.9,430.0 80.8,428.2 80.8,426.4 80.9,424.7 81.1,423.1 81.5,421.6 82.0,420.2 82.7,419.0 83.4,417.9" fill="none" stroke="#e8e8e8" stroke-width="1"/>
<circle cx="101.8" cy="420.6" r="2.4" fill="#000"/>
<circle cx="103.2" cy="422.0" r="2.4" fill="#000"/>
<circle cx="88.7" cy="414.9" r="2.4" fill="#000"/>
<circle cx="87.5" cy="415.1" r="2.4" fill="#000"/>
<polyline points="449.4,230.4 450.8,231.8 452.1,233.4 453.4,235.0 454.6,236.7 455.7,238.5 456.7,240.4 457.7,242.3 458.5,244.3 459.2,246.2 459.8,248.2 460.2,250.1 460.6,252.1 460.8,253.9 460.8,255.7 460.8,257.5 460.6,259.1 460.2,260.7 459.8,262.1 459.2,263.4 458.5,264.5 457.7,265.5 456.7,266.3 455.7,267.0 454.6,267.5 453.4,267.8 452.1,268.0 450.8,268.0 449.4,267.8 448.0,267.4 446.5,266.8 445.0,266.1 443.6,265.2 442.1,264.2 440.7,263.0 439.3,261.6 437.9,260.2 436.6,258.6 435.3,256.9 434.2,255.2 433.1,253.4 432.1,251.5 431.2,249.5 430.4,247.6 429.8,245.6 429.2,243.7 428.8,241.7 428.5,239.8 428.4,238.0 428.4,236.2 428.5,234.5 428.7,232.9 429.1,231.4 429.6,230.0 430.3,228.8 431.0,227.7 431.9,226.8 432.8,226.0 433.9,225.4 435.1,224.9 436.3,224.7" fill="none" stroke="#000" stroke-width="3.8" stroke-linecap="round"/>
<polyline points="455.7,238.5 456.7,240.4 457.7,242.3 458.5,244.3 459.2,246.2 459.8,248.2 460.2,250.1 460.6,252.1 460.8,253.9 460.8,255.7 460.8,257.5 460.6,259.1 460.2,260.7 459.8,262.1 459.2,263.4 458.5,264.5 457.7,265.5 456.7,266.3 455.7,267.0 454.6,267.5 453.4,267.8 452.1,268.0 450.8,268.0 449.4,267.8 448.0,267.4 446.5,266.8 445.0,266.1 443.6,265.2 442.1,264.2 440.7,263.0 439.3,261.6 437.9,260.2 436.6,258.6 435.3,256.9 434.2,255.2 433.1,253.4 432.1,251.5 431.2,249.5 430.4,247.6 429.8,245.6 429.2,243.7 428.8,241.7 428.5,239.8 428.4,238.0 428.4,236.2 428.5,234.5 428.7,232.9 429.1,231.4 429.6,230.0 430.3,228.8 431.0,227.7" fill="none" stroke="#e8e8e8" stroke-width="1"/>
<circle cx="449.4" cy="230.4" r="2.4" fill="#000"/>
<circle cx="450.8" cy="231.8" r="2.4" fill="#000"/>
<circle cx="436.3" cy="224.7" r="2.4" fill="#000"/>
<circle cx="435.1" cy="224.9" r="2.4" fill="#000"/>
<rect x="104.5" y="579.5" width="99" height="102" rx="15" fill="#f9b6ba" stroke="#ec1c24" stroke-width="3.3"/>
<rect x="251.5" y="411.5" width="163" height="382" rx="15" fill="#f9b6ba" stroke="#ec1c24" stroke-width="3.3"/>
<g id="shells" stroke-linejoin="round">
<path d="M119.7,630.1 L146.6,618.1 C153,624 160,633 165.3,647.3 L195.2,631.6 L195.5,641.5 L189,645.5 L166,657.5 L166.8,668.5 C160,673 153,676.5 147.4,677.2 C138,676 128,670 123,660 C119,652 117.5,644 118.2,638 Z" fill="#c4c4c4" stroke="#000" stroke-width="1.6"/>
<path d="M121,640 C121,652 126,664 135,671 C140,674 144,675.5 147.4,676" fill="none" stroke="#000" stroke-width="1.8"/>
<path d="M166,657.5 L189,645.5 L194.8,642.4 L194.8,654.9 L166.5,670.5 Z" fill="#808080" stroke="#000" stroke-width="1.5"/>
<path d="M168,651.5 L193,639" stroke="#555" stroke-width="0.8"/>
<path d="M120.5,631.5 L146,620" fill="none" stroke="#f0f0f0" stroke-width="1"/>
<path d="M133.9,602.4 C128,603 123,606 120.5,609.9 C118,614 117.5,619 119.7,622.6 C121,623.5 122.5,623.5 123.5,623.3 L145,615 C141,610 138,606 133.9,602.4 Z" fill="#c4c4c4" stroke="#000" stroke-width="1.6"/>
<path d="M133.9,602.4 L154.8,589.7 C165,590 176,596 184.7,605.4 C189,611 193,620 195.2,631.6 L165.3,647.3 C163,637 159,628 153.3,619.6 C149,614 142,608 133.9,602.4 Z" fill="#808080" stroke="#000" stroke-width="1.6"/>
<path d="M182,612 L182.5,617" stroke="#ddd" stroke-width="1"/>
</g>
<g id="rod">
<path d="M279.1,570.5 L302.4,557.6 L304,557 L364,557 L364,571.6 C368,578 373,588 378,595.4 L388.8,598.6 L389.9,624.5 L358.6,638.6 L344.5,633.2 C342,620 338,612 334.8,606.2 C330,598 325,593 313.2,584.6 C308,584 302,585 296,590 C294,593 293,596 292.7,599.7 L279.1,593.2 Z" fill="#808080" stroke="#000" stroke-width="1.5" stroke-linejoin="round"/>
<path d="M293.8,598 C294.5,591 298,586 303,584.3 C309,582.8 314,584.3 318.5,587.5 L298.5,599.8 Z" fill="#c4c4c4"/>
<path d="M294.3,598.5 C294.8,593 296.5,589 299.5,586.5" fill="none" stroke="#f0f0f0" stroke-width="1.2"/>
<path d="M279.5,570 L290,575 C295,574 300,571 303,566" fill="none" stroke="#000" stroke-width="1.2"/>
<path d="M290,575 L291,599.5" fill="none" stroke="#000" stroke-width="1.1"/>
<path d="M350,607.5 L374.5,594 L389,598.4 L359,615.1 Z" fill="#858585" stroke="#000" stroke-width="1.1" stroke-linejoin="round"/>
<path d="M341,597.3 C344,602 347,605.5 350.5,607 L374.5,593.6" fill="none" stroke="#f0f0f0" stroke-width="1.3"/>
<path d="M359,615.1 L359,638" stroke="#000" stroke-width="1.1"/>
<path d="M357.8,616 L357.8,637" stroke="#dcdcdc" stroke-width="0.8"/>
<path d="M344.5,571 C347,585 350,598 352,606" fill="none" stroke="#000" stroke-width="1"/>
<path d="M304.2,462 L364.2,462 L364.2,569 C358,573 352,572 346,569 C336,564 322,563 304.2,566 Z" fill="#808080"/>
<path d="M313,462 L343,462 L343,566.5 C334,564 323,563.5 313,564.5 Z" fill="#c4c4c4"/>
<line x1="312.5" y1="462" x2="312.5" y2="565" stroke="#000" stroke-width="1.2"/>
<line x1="331.5" y1="462" x2="331.5" y2="564.5" stroke="#000" stroke-width="1.2"/>
<line x1="343" y1="462" x2="343" y2="567" stroke="#000" stroke-width="1.2"/>
<line x1="326.7" y1="462" x2="326.7" y2="564" stroke="#777" stroke-width="1"/>
<line x1="354" y1="462" x2="354" y2="571" stroke="#000" stroke-width="0.8"/>
<line x1="304.2" y1="462" x2="304.2" y2="566" stroke="#000" stroke-width="1.5"/>
<line x1="364.2" y1="462" x2="364.2" y2="570" stroke="#000" stroke-width="1.5"/>
<path d="M304.2,566 C322,563 336,564 346,569 C352,572 358,573 364.2,569" fill="none" stroke="#000" stroke-width="1.2"/>
<path d="M301,571 C314,572 326,576 336,586 C342,593 345,600 346,608" fill="none" stroke="#e8e8e8" stroke-width="1.4"/>
<path d="M300,583.5 C307,580.5 316,581.5 323,587" fill="none" stroke="#000" stroke-width="1"/>
<path d="M303.5,540 L309.5,545 L309.5,566 L303.5,566 Z" fill="#333"/>
<path d="M301.6,437.4 C315,428 330,420 341.5,416.6 C348,415 352,417 354.8,420 C364,425 371,434 376.4,454.8 C377,463 376,468 373,471.4 C370,475 366,477 363,478 L334.8,493 Z" fill="#808080" stroke="#000" stroke-width="1.5" stroke-linejoin="round"/>
<path d="M324.9,425 C340,435 352,455 358,478" fill="none" stroke="#000" stroke-width="1"/>
<ellipse cx="316.5" cy="466" rx="22.5" ry="29.5" transform="rotate(-15 316.5 466)" fill="#c4c4c4" stroke="#000" stroke-width="1.5"/>
<ellipse cx="317.4" cy="467" rx="17" ry="22.5" transform="rotate(-15 317.4 467)" fill="#c4c4c4" stroke="#000" stroke-width="3"/>
</g>
<g id="cap" stroke-linejoin="round">
<path d="M266.2,655.8 L292.2,642.3 L308.8,650.6 C314,660 322,676 333.7,691 L355.5,677.6 L376.3,685.9 L376.6,707.7 L350,721.5 L345,725.3 C339,724 334,722.5 328,722.5 C318,722 308,718 300,713 C290,706 283,698 279,690 L266.2,679.6 Z" fill="#808080" stroke="#000" stroke-width="1.5"/>
<path d="M282.8,664.1 L308.8,650.6 C314,660 322,676 333.7,691 C334.5,698 333.5,703 331,707 C323,711 313,709 305,704 C296,698 289,690 285,680 Z" fill="#c4c4c4" stroke="#000" stroke-width="1.2"/>
<path d="M285.5,668 C288,684 296,696 306,703" fill="none" stroke="#f0f0f0" stroke-width="1"/>
<path d="M266.2,655.8 L292.2,642.3 L308.8,650.6 L282.8,664.1 Z" fill="#858585" stroke="#000" stroke-width="1.2"/>
<path d="M282.8,664.1 L282.8,670" stroke="#000" stroke-width="1"/>
<path d="M333.7,691 L355.5,677.6 L376.3,685.9 L345.1,697.8 Z" fill="#858585" stroke="#000" stroke-width="1.2"/>
<path d="M345.1,697.8 L345.1,725" stroke="#000" stroke-width="1.2"/>
<ellipse cx="288.5" cy="651.6" rx="4.5" ry="3" fill="#f4f4f4" stroke="#000" stroke-width="1"/>
<ellipse cx="355.5" cy="689.5" rx="4.5" ry="3" fill="#f4f4f4" stroke="#000" stroke-width="1"/>
</g>
<path d="M254.8,737 L257.8,734 L272.5,734 L275.5,737 L275.5,746.5 L271.5,749.5 L258.8,749.5 L254.8,746.5 Z" fill="#808080" stroke="#000" stroke-width="1.3"/>
<rect x="258" y="717" width="13.600000000000023" height="21" fill="#808080" stroke="#000" stroke-width="1.3"/>
<path d="M258,717 L258,696.2 Q258,693.2 261,693.2 L268.6,693.2 Q271.6,693.2 271.6,696.2 L271.6,717 Z" fill="#000"/>
<line x1="265.15" y1="738" x2="265.15" y2="749.5" stroke="#000" stroke-width="1"/>
<path d="M350.7,772 L353.7,769 L368.5,769 L371.5,772 L371.5,782 L367.5,785 L354.7,785 L350.7,782 Z" fill="#808080" stroke="#000" stroke-width="1.3"/>
<rect x="353.9" y="754" width="14.400000000000034" height="19" fill="#808080" stroke="#000" stroke-width="1.3"/>
<path d="M353.9,754 L353.9,732.7 Q353.9,729.7 356.9,729.7 L365.3,729.7 Q368.3,729.7 368.3,732.7 L368.3,754 Z" fill="#000"/>
<line x1="361.1" y1="773" x2="361.1" y2="785" stroke="#000" stroke-width="1"/>
<g stroke="#1a1a1a" stroke-width="1.1" fill="none">
<line x1="416" y1="41.2" x2="499" y2="35.7"/>
<line x1="418.2" y1="96.7" x2="492" y2="90"/>
<line x1="412.1" y1="150.5" x2="496.5" y2="144.3"/>
<line x1="456.2" y1="234.3" x2="490.5" y2="217"/>
<line x1="385" y1="327" x2="446.5" y2="332.5"/>
<line x1="190.7" y1="386.6" x2="220" y2="409"/>
<line x1="172.5" y1="546.7" x2="146.8" y2="593.5"/>
<line x1="416" y1="554.5" x2="444.5" y2="550"/>
</g>
<circle cx="404" cy="556.5" r="0.8" fill="#333"/>
<path d="M505.2,46.7 L509.8,46.7 L509.8,24.7 L506.3,24.7 C505.3,27.3 503,29.6 500,31 L500,35.3 C502,34.5 503.8,33.4 505.2,32 Z" fill="#000"/>
<text x="492.3" y="100">2</text>
<text x="495" y="154">3</text>
<text x="487.6" y="230.2">4</text>
<text x="444.7" y="342.8">5</text>
<text x="218.9" y="420.1">6</text>
<text x="172.7" y="558.2">7</text>
<text x="445.5" y="558.5">8</text>
</svg>
</body></html>
